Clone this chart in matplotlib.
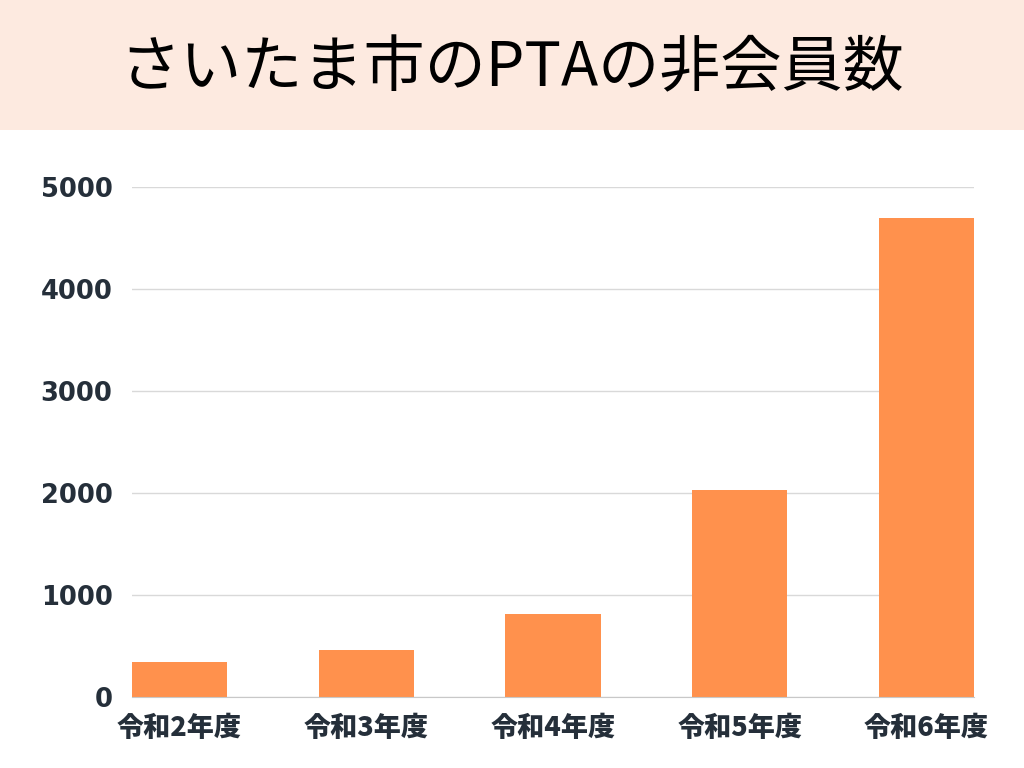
import numpy as np
import matplotlib
matplotlib.use("Agg")
import matplotlib.pyplot as plt
from matplotlib.patches import Rectangle

years = ["令和2年度", "令和3年度", "令和4年度", "令和5年度", "令和6年度"]
non_members = [343, 462, 814, 2029, 4696]
yticks = [0, 1000, 2000, 3000, 4000, 5000]

title = "さいたま市のPTAの非会員数"
bar_color = "#FF914D"
band_color = "#FDEAE0"
text_color = "#252F3A"

plt.rcParams['font.family'] = ['Noto Sans CJK JP', 'DejaVu Sans']

fig = plt.figure(figsize=(10.24, 7.68), dpi=100)
fig.patch.set_facecolor("white")

# peach title band
fig.patches.append(Rectangle((0, 1 - 130/768), 1, 130/768, transform=fig.transFigure,
                             facecolor=band_color, edgecolor="none", zorder=0))
fig.text(0.5, 1 - 69/768, title, ha="center", va="center", fontsize=44,
         fontweight='normal', color="black", family=['Noto Sans CJK JP', 'DejaVu Sans'])

ax = fig.add_axes([132/1024, 1 - 697/768, (974 - 132)/1024, (697 - 187)/768])
w = 0.51
x = np.arange(len(years))
ax.bar(x, non_members, width=w, color=bar_color, zorder=3)
ax.set_xlim(-w/2, len(years) - 1 + w/2)
ax.set_ylim(0, 5000)
ax.set_yticks(yticks)
ax.set_yticklabels([str(v) for v in yticks], family='DejaVu Sans', fontweight='heavy',
                   fontsize=18.5, color=text_color)
ax.set_xticks(x)
ax.set_xticklabels(years, fontweight='black', fontsize=19.5, color=text_color)
ax.tick_params(axis='both', length=0)
ax.tick_params(axis='y', pad=14)
ax.tick_params(axis='x', pad=12)
ax.grid(axis='y', color="#D9D9D9", linewidth=1, zorder=0)
for s in ["top", "right", "left"]:
    ax.spines[s].set_visible(False)
ax.spines["bottom"].set_color("#C8C8C8")
ax.spines["bottom"].set_zorder(4)
ax.set_facecolor("none")

fig.savefig("out.png", dpi=100)
